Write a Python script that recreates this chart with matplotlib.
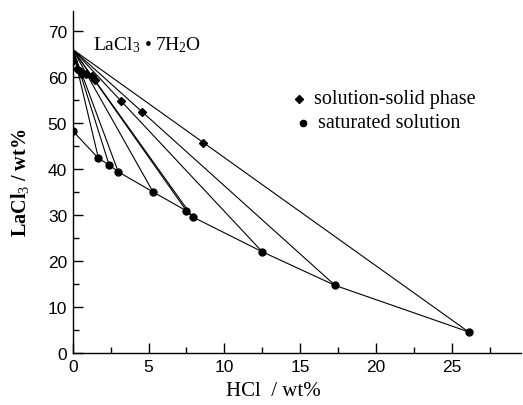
import matplotlib
matplotlib.use("Agg")
import matplotlib.pyplot as plt
from matplotlib.ticker import MultipleLocator

plt.rcParams['mathtext.fontset'] = 'custom'
plt.rcParams['mathtext.rm'] = 'Liberation Serif'
plt.rcParams['mathtext.it'] = 'Liberation Serif:italic'
plt.rcParams['mathtext.bf'] = 'Liberation Serif:bold'

# saturated solution (liquid) compositions, wt%
liq_hcl = [0.0, 1.7, 2.4, 3.0, 5.3, 7.5, 7.9, 12.5, 17.3, 26.1]
liq_lacl3 = [48.3, 42.3, 40.9, 39.4, 35.0, 30.9, 29.6, 22.0, 14.7, 4.6]

# solution-solid phase (wet residue) compositions, wt%
sol_hcl = [0.0, 0.3, 0.45, 0.6, 0.9, 1.25, 1.45, 3.2, 4.6, 8.6]
sol_lacl3 = [63.5, 61.8, 61.3, 60.7, 60.7, 60.2, 59.3, 54.7, 52.4, 45.6]

# solid phase LaCl3·7H2O
solid_hcl = 0.0
solid_lacl3 = 66.0

fig = plt.figure(figsize=(5.23, 4.06), dpi=100)
ax = fig.add_axes([0.139, 0.128, 0.857, 0.842])

lw = 0.8
# tie lines
for lx, ly in zip(liq_hcl, liq_lacl3):
    ax.plot([solid_hcl, lx], [solid_lacl3, ly], color='black', lw=lw, zorder=2)
# solubility curve
ax.plot(liq_hcl, liq_lacl3, color='black', lw=lw, zorder=2)
ax.plot(liq_hcl, liq_lacl3, 'o', color='black', ms=5, zorder=3)
ax.plot(sol_hcl, sol_lacl3, 'D', color='black', ms=4, zorder=3)

ax.text(1.35, 67.2, 'LaCl$_3$ • 7H$_2$O', fontsize=14, family='Liberation Serif',
        va='center', ha='left')

# legend
ax.plot([14.9], [55.3], 'D', color='black', ms=4, clip_on=False)
ax.text(15.9, 55.3, 'solution-solid phase', fontsize=14.5, family='Liberation Serif',
        va='center', ha='left')
ax.plot([15.2], [50.1], 'o', color='black', ms=4.5, clip_on=False)
ax.text(16.2, 50.1, 'saturated solution', fontsize=14.5, family='Liberation Serif',
        va='center', ha='left')

ax.set_xlim(0, 29.55)
ax.set_ylim(0, 74.3)
ax.xaxis.set_major_locator(MultipleLocator(5))
ax.xaxis.set_minor_locator(MultipleLocator(2.5))
ax.yaxis.set_major_locator(MultipleLocator(10))
ax.yaxis.set_minor_locator(MultipleLocator(5))
ax.tick_params(which='both', direction='in', top=False, right=False, width=1.0)
ax.tick_params(which='major', length=7, labelsize=12.5, pad=4)
ax.tick_params(which='minor', length=4)
for lab in ax.get_xticklabels() + ax.get_yticklabels():
    lab.set_family('Liberation Sans')
for s in ['top', 'right']:
    ax.spines[s].set_visible(False)
for s in ['left', 'bottom']:
    ax.spines[s].set_linewidth(1.0)

ax.set_xlabel('HCl  / wt%', fontsize=15, family='Liberation Serif')
ax.xaxis.set_label_coords(0.447, -0.083)
ax.set_ylabel('LaCl$_3$ / wt%', fontsize=14.5, family='Liberation Serif', fontweight='bold')
ax.yaxis.set_label_coords(-0.093, 0.5)

fig.savefig('out.png', dpi=100)
